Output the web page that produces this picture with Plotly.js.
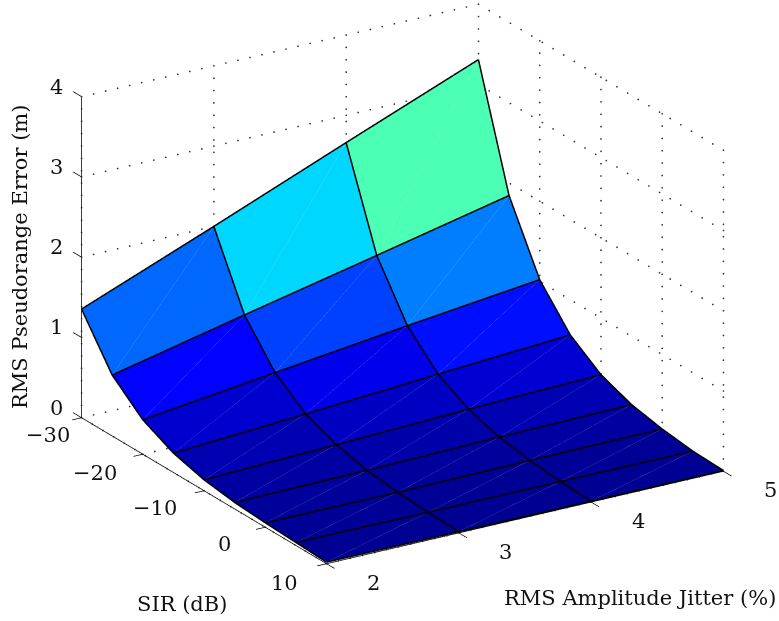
<!DOCTYPE html>
<html><head><meta charset="utf-8">
<script src="https://cdn.plot.ly/plotly-3.0.1.min.js"></script>
<style>html,body{margin:0;padding:0;background:#fff}#c{width:779px;height:621px}</style>
</head><body><div id="c"></div>
<script>
const jitter = [2, 3, 4, 5];
const sir = [-30, -25, -20, -15, -10, -5, 0, 5, 10];
const errAt2 = [1.354, 0.76, 0.43, 0.242, 0.137, 0.082, 0.056, 0.038, 0.02];
const errAt3 = [2.0, 1.125, 0.633, 0.346, 0.19, 0.098, 0.051, 0.03, 0.016];
const errAt4 = [2.66, 1.482, 0.834, 0.458, 0.249, 0.128, 0.065, 0.03, 0.012];
const errAt5 = [3.31, 1.844, 1.024, 0.562, 0.295, 0.149, 0.072, 0.024, 0.01];
const xTicks = [2, 3, 4, 5];
const yTicks = [-30, -20, -10, 0, 10];
const zTicks = [0, 1, 2, 3, 4];
const xLabel = 'RMS Amplitude Jitter (%)', yLabel = 'SIR (dB)', zLabel = 'RMS Pseudorange Error (m)';
const FONT = 'DejaVu Serif', FS = 21;

const Z = [errAt2, errAt3, errAt4, errAt5];
const nx = jitter.length, ny = sir.length;
const idx = (a, b) => a * ny + b;
const vx = [], vy = [], vz = [], I = [], J = [], K = [], inten = [];
for (let a = 0; a < nx; a++) for (let b = 0; b < ny; b++) { vx.push(jitter[a]); vy.push(sir[b]); vz.push(Z[a][b]); }
for (let a = 0; a < nx - 1; a++) for (let b = 0; b < ny - 1; b++) {
  const p = idx(a, b), q = idx(a + 1, b), r = idx(a, b + 1), s = idx(a + 1, b + 1);
  I.push(p, q); J.push(q, s); K.push(r, r);
  inten.push(Z[a][b], Z[a][b]);
}
const jet = [[0,'rgb(0,0,143)'],[0.125,'rgb(0,0,255)'],[0.375,'rgb(0,255,255)'],[0.625,'rgb(255,255,0)'],[0.875,'rgb(255,0,0)'],[1,'rgb(128,0,0)']];
const surf = {type:'mesh3d', x:vx, y:vy, z:vz, i:I, j:J, k:K, intensity:inten, intensitymode:'cell', colorscale:jet, cmin:0, cmax:5.92, showscale:false, flatshading:true, hoverinfo:'skip',
  lighting:{ambient:1, diffuse:0, specular:0, roughness:1, fresnel:0}};

// small nudges toward the viewer so lines stay in front of the coplanar mesh
const lift = (p, n) => [p[0] - 0.0032*n, p[1] + 0.068*n, p[2] + 0.0043*n];
function seg(list, color, width, opacity) {
  const x=[],y=[],z=[];
  for (const s of list) { for (const p of s) { x.push(p[0]); y.push(p[1]); z.push(p[2]); } x.push(null); y.push(null); z.push(null); }
  return {type:'scatter3d', mode:'lines', x, y, z, opacity:opacity===undefined?1:opacity, line:{color, width}, hoverinfo:'skip', showlegend:false};
}
const mesh = [], diag = [];
for (let a = 0; a < nx; a++) mesh.push(sir.map((s, b) => lift([jitter[a], s, Z[a][b]], 8)));
for (let b = 0; b < ny; b++) mesh.push(jitter.map((q, a) => lift([q, sir[b], Z[a][b]], 8)));
for (let a = 0; a < nx - 1; a++) for (let b = 0; b < ny - 1; b++) diag.push([lift([jitter[a], sir[b+1], Z[a][b+1]], 5), lift([jitter[a+1], sir[b], Z[a+1][b]], 5)]);

const x0 = xTicks[0], x1 = xTicks[3], y0 = yTicks[0], y1 = yTicks[4], z0 = zTicks[0], z1 = zTicks[4];
const gridLines = [];
for (const q of xTicks) { gridLines.push([[q,y0,z0],[q,y0,z1],27]); gridLines.push([[q,y0,z0],[q,y1,z0],24]); }
for (const s of yTicks) { gridLines.push([[x1,s,z0],[x1,s,z1],27]); gridLines.push([[x0,s,z0],[x1,s,z0],34]); }
for (const h of zTicks) { gridLines.push([[x0,y0,h],[x1,y0,h],34]); gridLines.push([[x1,y0,h],[x1,y1,h],24]); }
const dx=[],dy=[],dz=[];
for (const [p,q,n] of gridLines) for (let t=0;t<n;t++) { const f=t/(n-1); dx.push(p[0]+(q[0]-p[0])*f); dy.push(p[1]+(q[1]-p[1])*f); dz.push(p[2]+(q[2]-p[2])*f); }
const dots = {type:'scatter3d', mode:'markers', x:dx, y:dy, z:dz, marker:{size:1, color:'#333', symbol:'circle', line:{width:0}}, hoverinfo:'skip', showlegend:false};

const axes = [[[x0,y0,z0],[x0,y0,z1]], [[x0,y0,z0],[x0,y1,z0]], [[x0,y1,z0],[x1,y1,z0]]];
for (const q of xTicks) axes.push([[q,y1,z0],[q,y1+1.3,z0]]);
for (const s of yTicks) axes.push([[x0,s,z0],[x0-0.07,s,z0]]);
for (const h of zTicks) axes.push([[x0,y0,h],[x0,y0-1.4,h]]);

const fnt = {family:FONT, size:FS, color:'#111'};
const mk = (x,y,z,text,xs,ys) => ({x,y,z,text,showarrow:false,font:fnt,xshift:xs,yshift:ys,xanchor:'center',yanchor:'middle'});
const minus = v => v < 0 ? '\u2212' + (-v) : '' + v;
const ann3 = [];
xTicks.forEach(v => ann3.push(mk(v, y1, z0, minus(v), 47, -19)));
const ySh = [[-34,-17],[-48,-19],[-49,-17],[-41,-17],[-42,-19]];
yTicks.forEach((v,i) => ann3.push(mk(x0, v, z0, minus(v), ySh[i][0], ySh[i][1])));
zTicks.forEach(v => ann3.push(mk(x0, y0, v, minus(v), -25, 10)));

const axisOff = r => ({range:r, showgrid:false, zeroline:false, showline:false, showticklabels:false, showbackground:false, showspikes:false, ticks:'', title:{text:''}});
const R = 1.25, d = [-0.0524,-0.0048,-0.0793];
const titleAnn = (x,y,text,angle) => ({xref:'paper',yref:'paper',x:x/779,y:1-y/621,xanchor:'center',yanchor:'middle',text,textangle:angle||0,showarrow:false,font:fnt});
const layout = {
  width:779, height:621, margin:{l:0,r:0,t:0,b:0}, paper_bgcolor:'#fff', showlegend:false,
  scene:{ domain:{x:[0,1],y:[0,1]}, aspectmode:'manual', aspectratio:{x:1.608,y:1.6,z:1.17},
    camera:{projection:{type:'orthographic'}, up:{x:0,y:0,z:1}, center:{x:d[0],y:d[1],z:d[2]}, eye:{x:-0.492*R+d[0],y:-0.787*R+d[1],z:0.3726*R+d[2]}},
    xaxis:axisOff([1.9,5.1]), yaxis:axisOff([11.5,-31.5]), zaxis:axisOff([-0.1,4.1]), annotations:ann3 },
  annotations:[ titleAnn(640,598,xLabel), titleAnn(182,604,yLabel), titleAnn(20,257,zLabel,-90) ]
};
Plotly.newPlot('c', [surf, seg(mesh,'#000',3), dots, seg(axes,'#000',1.5), seg(diag,'#ffffff',1,0.2)], layout, {displayModeBar:false});
</script></body></html>
